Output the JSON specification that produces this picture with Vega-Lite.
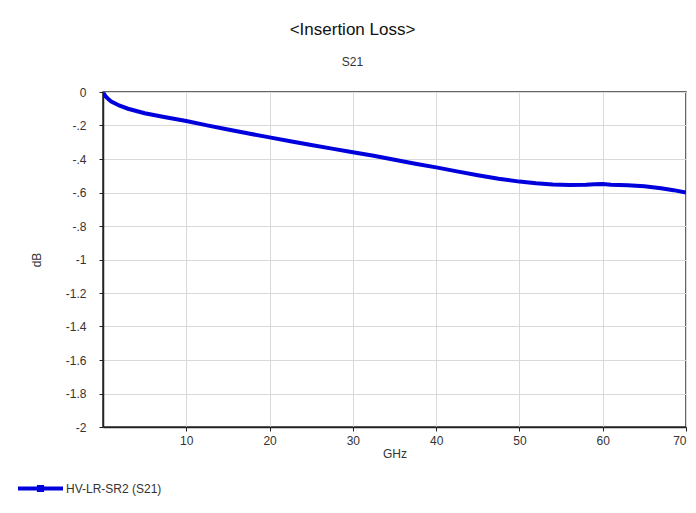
{
  "$schema": "https://vega.github.io/schema/vega-lite/v6.json",
  "width": 583,
  "height": 335,
  "autosize": {"type": "none"},
  "padding": {"left": 103, "top": 92, "right": 10, "bottom": 86},
  "background": "white",
  "title": {
    "text": "<Insertion Loss>",
    "subtitle": "S21",
    "font": "Arial",
    "fontSize": 17,
    "fontWeight": "normal",
    "color": "#111",
    "subtitleFont": "Arial",
    "subtitleFontSize": 12,
    "subtitleColor": "#333",
    "subtitlePadding": 18,
    "anchor": "middle",
    "dx": -42,
    "offset": 17
  },
  "config": {
    "view": {"stroke": "#333", "strokeWidth": 1.5},
    "axis": {
      "labelFont": "Arial",
      "labelFontSize": 12,
      "labelColor": "#333",
      "titleFont": "Arial",
      "titleFontSize": 12,
      "titleFontWeight": "normal",
      "titleColor": "#333",
      "gridColor": "#d9d9d9",
      "gridWidth": 1,
      "domainColor": "#222",
      "domainWidth": 1.5,
      "tickColor": "#222",
      "tickSize": 4
    }
  },
  "data": {
    "values": [
      {"GHz": 0.05, "dB": -0.005},
      {"GHz": 0.3, "dB": -0.025},
      {"GHz": 0.7, "dB": -0.045},
      {"GHz": 1, "dB": -0.057},
      {"GHz": 2, "dB": -0.082},
      {"GHz": 3, "dB": -0.1},
      {"GHz": 5, "dB": -0.127},
      {"GHz": 7.5, "dB": -0.151},
      {"GHz": 10, "dB": -0.173},
      {"GHz": 12.5, "dB": -0.199},
      {"GHz": 15, "dB": -0.224},
      {"GHz": 17.5, "dB": -0.248},
      {"GHz": 20, "dB": -0.271},
      {"GHz": 22.5, "dB": -0.294},
      {"GHz": 25, "dB": -0.316},
      {"GHz": 27.5, "dB": -0.338},
      {"GHz": 30, "dB": -0.36},
      {"GHz": 32.5, "dB": -0.381},
      {"GHz": 35, "dB": -0.405},
      {"GHz": 37.5, "dB": -0.428},
      {"GHz": 40, "dB": -0.45},
      {"GHz": 42.5, "dB": -0.474},
      {"GHz": 45, "dB": -0.497},
      {"GHz": 47.5, "dB": -0.518},
      {"GHz": 50, "dB": -0.535},
      {"GHz": 52, "dB": -0.545},
      {"GHz": 54, "dB": -0.552},
      {"GHz": 56, "dB": -0.555},
      {"GHz": 58, "dB": -0.554},
      {"GHz": 59, "dB": -0.551},
      {"GHz": 60, "dB": -0.55},
      {"GHz": 61, "dB": -0.553},
      {"GHz": 63, "dB": -0.556},
      {"GHz": 65, "dB": -0.563},
      {"GHz": 67, "dB": -0.575},
      {"GHz": 68.5, "dB": -0.586},
      {"GHz": 70, "dB": -0.6}
    ]
  },
  "transform": [{"calculate": "'HV-LR-SR2 (S21)'", "as": "series"}],
  "mark": {"type": "line", "strokeWidth": 4, "clip": true},
  "encoding": {
    "x": {
      "field": "GHz",
      "type": "quantitative",
      "scale": {"domain": [0, 70], "nice": false},
      "axis": {"values": [10, 20, 30, 40, 50, 60, 70], "title": "GHz", "titlePadding": 2, "labelPadding": 4}
    },
    "y": {
      "field": "dB",
      "type": "quantitative",
      "scale": {"domain": [-2, 0], "nice": false},
      "axis": {
        "values": [0, -0.2, -0.4, -0.6, -0.8, -1, -1.2, -1.4, -1.6, -1.8, -2],
        "labelExpr": "replace(toString(round(datum.value*10)/10), '-0.', '-.')",
        "title": "dB",
        "titlePadding": 22,
        "labelPadding": 13
      }
    },
    "color": {
      "field": "series",
      "type": "nominal",
      "scale": {"range": ["#0000dd"]},
      "legend": {
        "title": null,
        "orient": "none",
        "legendX": -85,
        "legendY": 374,
        "symbolType": "M-1,-0.09H1V0.09H-1Z M-0.16,-0.16H0.16V0.16H-0.16Z",
        "symbolSize": 2025,
        "symbolStrokeWidth": 0,
        "symbolFillColor": "#0000dd",
        "labelFont": "Arial",
        "labelFontSize": 12,
        "labelColor": "#333",
        "labelOffset": 3
      }
    }
  }
}
